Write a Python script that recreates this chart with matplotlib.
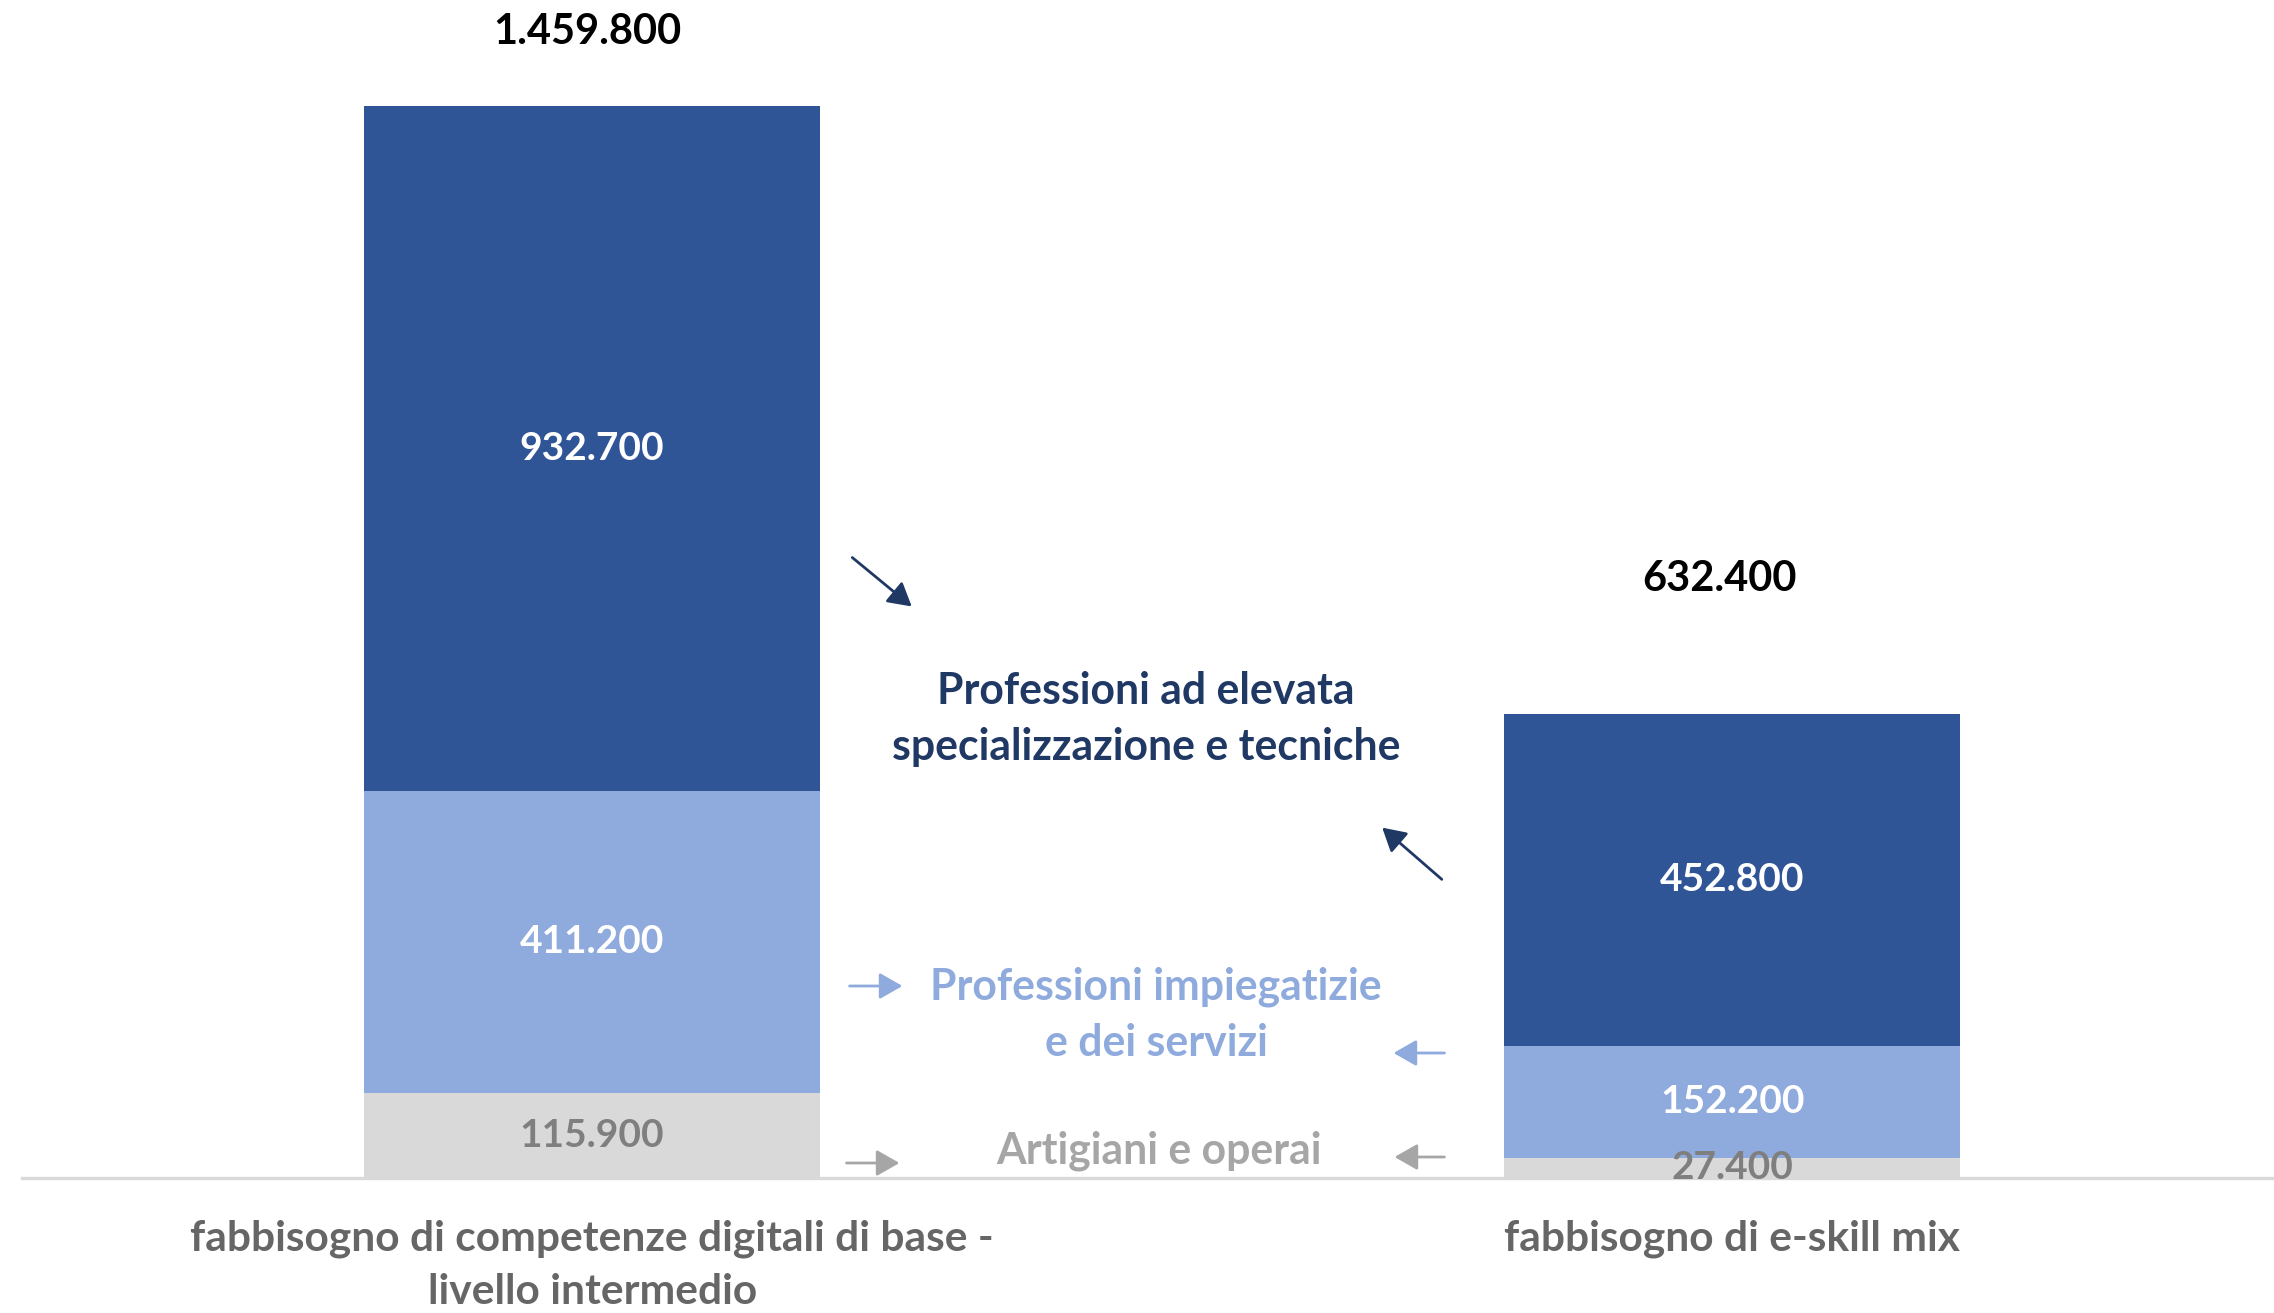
import numpy as np
import matplotlib.pyplot as plt

# dati (fabbisogno per gruppo professionale)
categorie = ["fabbisogno di competenze digitali di base -\nlivello intermedio",
             "fabbisogno di e-skill mix"]
artigiani = [115900, 27400]
impiegatizie = [411200, 152200]
elevata = [932700, 452800]
totali = [1459800, 632400]

c_dark, c_light, c_grey = "#2F5597", "#8FAADC", "#D9D9D9"

plt.rcParams['font.family'] = ['Lato', 'DejaVu Sans']

W, H = 2274, 1313
fig = plt.figure(figsize=(W/200, H/200), dpi=200)
ax = fig.add_axes([22/W, (H-1178)/H, 1-22/W, 1178/H])

x = np.arange(len(categorie))
w = 0.4
b1 = ax.bar(x, artigiani, w, color=c_grey)
b2 = ax.bar(x, impiegatizie, w, bottom=artigiani, color=c_light)
bot3 = np.add(artigiani, impiegatizie)
b3 = ax.bar(x, elevata, w, bottom=bot3, color=c_dark)

fmt = lambda v: f"{v:,}".replace(",", ".")
ax.bar_label(b1, labels=[fmt(v) for v in artigiani],
             label_type='center', color="#7F7F7F", fontsize=14, fontweight='bold')
ax.bar_label(b2, labels=[fmt(v) for v in impiegatizie],
             label_type='center', color="white", fontsize=14, fontweight='bold')
ax.bar_label(b3, labels=[fmt(v) for v in elevata],
             label_type='center', color="white", fontsize=14, fontweight='bold')

# totali sopra le barre
off = [(-1.6, 26.6), (-4.7, 48.6)]
for xi, t, o in zip(x, totali, off):
    ax.annotate(fmt(t), (xi, t), xytext=o,
                textcoords='offset points', ha='center', va='center',
                fontsize=15, fontweight='bold', color='black')

ax.set_xlim(-0.5, 1.475)
ax.set_ylim(0, totali[0]*1178/(1178-106))
ax.set_xticks(x, categorie, fontsize=15.3, fontweight='bold', color='#666666',
              linespacing=1.47)
ax.tick_params(axis='x', length=0, pad=15)
ax.set_yticks([])
for s in ['top', 'right', 'left']:
    ax.spines[s].set_visible(False)
ax.spines['bottom'].set_color('#D9D9D9')
ax.spines['bottom'].set_linewidth(1.2)

# etichette e frecce (coordinate in pixel dall'alto)
def fp(px, py):
    return (px/W, 1-py/H)

fig.text(*fp(1146, 719), "Professioni ad elevata\nspecializzazione e tecniche",
         ha='center', va='center', fontsize=15.4, fontweight='bold',
         color='#203864', linespacing=1.48)
fig.text(*fp(1156, 1015), "Professioni impiegatizie\ne dei servizi",
         ha='center', va='center', fontsize=15.4, fontweight='bold',
         color=c_light, linespacing=1.48)
fig.text(*fp(1159, 1151), "Artigiani e operai",
         ha='center', va='center', fontsize=15.4, fontweight='bold',
         color='#A6A6A6')

frecce = [((848, 554), (916, 610), '#203864'),
          ((1446, 883), (1378, 824), '#203864'),
          ((844, 986), (908, 986), c_light),
          ((1450, 1053), (1388, 1053), c_light),
          ((841, 1163), (905, 1163), '#A6A6A6'),
          ((1450, 1157), (1389, 1157), '#A6A6A6')]
for start, end, col in frecce:
    fig.add_artist(plt.matplotlib.patches.FancyArrowPatch(
        fp(*start), fp(*end), transform=fig.transFigure,
        arrowstyle='-|>,head_length=7,head_width=4', color=col, lw=1.0))

fig.savefig("out.png", dpi=200)
